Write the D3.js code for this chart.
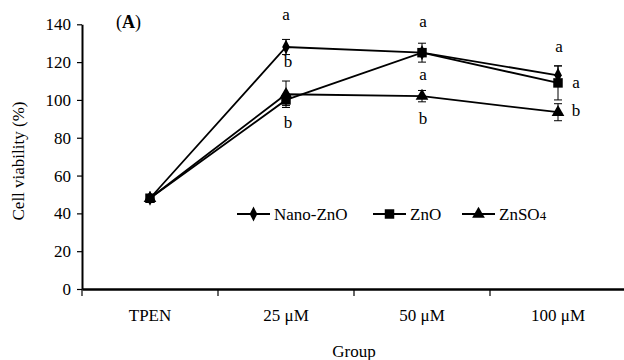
<!DOCTYPE html>
<html>
<head>
<meta charset="utf-8">
<script src="https://cdn.jsdelivr.net/npm/d3@7"></script>
<style>
  body { margin: 0; background: #fff; }
  svg text { font-family: "Liberation Serif", "DejaVu Serif", serif; fill: #000; }
</style>
</head>
<body>
<div id="chart"></div>
<script>
// Data
var groups = ["TPEN", "25 μM", "50 μM", "100 μM"];
var yTicks = [0, 20, 40, 60, 80, 100, 120, 140];

var nanoZnO = [48, 128, 125, 113];
var nanoZnOErr = [1, 4, 2, 5];
var znO = [48, 100, 125, 109];
var znOErr = [1, 3, 5, 9];
var znSO4 = [48, 103, 102, 93.5];
var znSO4Err = [1, 7, 3, 4.5];

// significance letters: group, value position, text, dx
var letters = [
  { g: "25 μM", v: 145, t: "a", dx: 0 },
  { g: "25 μM", v: 120, t: "b", dx: 2 },
  { g: "25 μM", v: 88, t: "b", dx: 2 },
  { g: "50 μM", v: 141, t: "a", dx: 1 },
  { g: "50 μM", v: 113, t: "a", dx: 1 },
  { g: "50 μM", v: 90, t: "b", dx: 1 },
  { g: "100 μM", v: 128, t: "a", dx: 1 },
  { g: "100 μM", v: 109, t: "a", dx: 18 },
  { g: "100 μM", v: 94, t: "b", dx: 18 }
];

var width = 624, height = 360;
var svg = d3.select("#chart").append("svg")
  .attr("width", width)
  .attr("height", height);

var x = d3.scaleBand().domain(groups).range([82, 626]).padding(0);
var y = d3.scaleLinear().domain([0, 140]).range([289, 24.3]);
var cx = function (g) { return x(g) + x.bandwidth() / 2; };

// y axis
var yAxis = svg.append("g")
  .attr("transform", "translate(82,0)")
  .call(d3.axisLeft(y).tickValues(yTicks).tickSize(5).tickSizeOuter(0).tickPadding(6));
yAxis.select(".domain").attr("stroke-width", 2);
yAxis.selectAll(".tick line").attr("stroke-width", 1.2);
yAxis.selectAll("text").style("font-size", "17px").attr("fill", "#000");

// x axis: labels centred in band, ticks at band edges
var xAxis = svg.append("g")
  .attr("transform", "translate(0,289)")
  .call(d3.axisBottom(x).tickSize(0).tickSizeOuter(0).tickPadding(20));
xAxis.select(".domain").attr("stroke-width", 2.4);
xAxis.selectAll("text").style("font-size", "17px").attr("fill", "#000");
xAxis.selectAll("line.edge")
  .data(groups)
  .enter().append("line")
  .attr("class", "edge")
  .attr("x1", function (d) { return x(d); })
  .attr("x2", function (d) { return x(d); })
  .attr("y1", 0).attr("y2", 7)
  .attr("stroke", "#000").attr("stroke-width", 1.2);

// axis titles
svg.append("text")
  .attr("transform", "translate(24,161) rotate(-90)")
  .attr("text-anchor", "middle")
  .style("font-size", "17px")
  .text("Cell viability (%)");
svg.append("text")
  .attr("x", 354).attr("y", 357)
  .attr("text-anchor", "middle")
  .style("font-size", "17px")
  .text("Group");

// panel label
var lab = svg.append("text").attr("x", 116).attr("y", 28).style("font-size", "18px");
lab.append("tspan").text("(");
lab.append("tspan").attr("font-weight", "bold").text("A");
lab.append("tspan").text(")");

var series = [
  { name: "Nano-ZnO", vals: nanoZnO, err: nanoZnOErr, shape: d3.symbolDiamond, size: 50 },
  { name: "ZnO", vals: znO, err: znOErr, shape: d3.symbolSquare, size: 90 },
  { name: "ZnSO4", vals: znSO4, err: znSO4Err, shape: d3.symbolTriangle, size: 70 }
];

var line = d3.line()
  .x(function (d) { return cx(d.g); })
  .y(function (d) { return y(d.v); });

series.forEach(function (s) {
  var pts = groups.map(function (g, i) { return { g: g, v: s.vals[i], e: s.err[i] }; });
  var g = svg.append("g");
  // error bars
  var eb = g.selectAll("g.err").data(pts.slice(1)).enter().append("g");
  eb.append("line")
    .attr("x1", function (d) { return cx(d.g); })
    .attr("x2", function (d) { return cx(d.g); })
    .attr("y1", function (d) { return y(d.v + d.e); })
    .attr("y2", function (d) { return y(d.v - d.e); })
    .attr("stroke", "#000").attr("stroke-width", 1);
  [1, -1].forEach(function (sg) {
    eb.append("line")
      .attr("x1", function (d) { return cx(d.g) - 4; })
      .attr("x2", function (d) { return cx(d.g) + 4; })
      .attr("y1", function (d) { return y(d.v + sg * d.e); })
      .attr("y2", function (d) { return y(d.v + sg * d.e); })
      .attr("stroke", "#000").attr("stroke-width", 1);
  });
  g.append("path")
    .datum(pts)
    .attr("d", line)
    .attr("fill", "none")
    .attr("stroke", "#000")
    .attr("stroke-width", 1.8);
  g.selectAll("path.mark").data(pts).enter().append("path")
    .attr("class", "mark")
    .attr("d", d3.symbol().type(s.shape).size(s.size))
    .attr("transform", function (d) {
      var sy = s.shape === d3.symbolDiamond ? " scale(1,1.15)" : "";
      return "translate(" + cx(d.g) + "," + y(d.v) + ")" + sy;
    })
    .attr("fill", "#000");
});

// letters
svg.selectAll("text.sig").data(letters).enter().append("text")
  .attr("class", "sig")
  .attr("x", function (d) { return cx(d.g) + d.dx; })
  .attr("y", function (d) { return y(d.v) + 5; })
  .attr("text-anchor", "middle")
  .style("font-size", "17px")
  .text(function (d) { return d.t; });

// legend
var legX = [237, 373, 462];
series.forEach(function (s, i) {
  var lg = svg.append("g").attr("transform", "translate(" + legX[i] + ",214)");
  lg.append("line").attr("x1", 0).attr("x2", 33).attr("y1", 0).attr("y2", 0)
    .attr("stroke", "#000").attr("stroke-width", 1.8);
  lg.append("path")
    .attr("d", d3.symbol().type(s.shape).size(s.size))
    .attr("transform", "translate(16.5,0)" + (s.shape === d3.symbolDiamond ? " scale(1,1.15)" : ""))
    .attr("fill", "#000");
  var t = lg.append("text").attr("x", 37).attr("y", 5.5).style("font-size", "17px");
  if (s.name === "ZnSO4") {
    t.append("tspan").text("ZnSO");
    t.append("tspan").style("font-size", "13px").text("4");
  } else {
    t.text(s.name);
  }
});
</script>
</body>
</html>
